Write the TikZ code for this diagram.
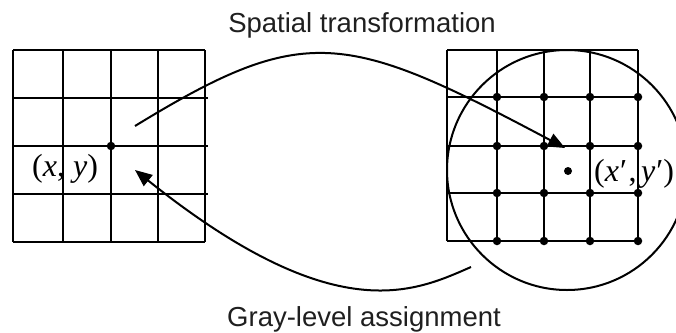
\documentclass[tikz,border=0pt]{standalone}
\usepackage{fontspec}
\setmainfont{Liberation Serif}
\newfontfamily\capfont{Liberation Sans}
\usetikzlibrary{arrows.meta}
\tikzset{
  gridline/.style={line width=2pt},
  gdot/.style={circle, fill=black, draw=none, inner sep=0pt, minimum size=8.5pt},
  arc/.style={line width=2pt, -{Triangle[length=17pt,width=14pt]}},
  caption/.style={font=\capfont\fontsize{27.5}{33}\selectfont, text=black!88, inner sep=0pt, anchor=base},
  coordlabel/.style={font=\fontsize{32}{36}\selectfont, inner sep=0pt}
}
\begin{document}
\begin{tikzpicture}[x=1pt,y=-1pt]
\useasboundingbox (0,0) rectangle (676,332);
\clip (0,0) rectangle (676,332);
% left grid
\foreach \x in {13,63,111,158,205} \draw[gridline] (\x,50) -- (\x,242);
\draw[gridline] (13,50) -- (205,50);
\draw[gridline] (13,242) -- (205,242);
\foreach \y in {98,146,194} \draw[gridline] (13,\y) -- (208,\y);
\node[gdot] (src) at (111,146) {};
\node[coordlabel, anchor=west] (xy) at (32,169) {(\textit{x}, \textit{y})};
% right grid
\foreach \x in {447,497,544,590,638} \draw[gridline] (\x,50) -- (\x,241);
\foreach \y in {50,97,146,193,241} \draw[gridline] (447,\y) -- (638,\y);
\foreach \x in {497,544,590,638}
  \foreach \y in {97,146,193,241}
    \node[gdot] at (\x,\y) {};
\node[gdot, minimum size=8pt] (dst) at (568,171) {};
\node[coordlabel, anchor=west] (xyp) at (594,174) {(\textit{x}\kern1pt′\kern1.5pt,\kern4.5pt\textit{y}\kern1pt′)};
% neighbourhood circle
\node[circle, draw, line width=2pt, minimum size=240pt, inner sep=0pt] (nb) at (567,170) {};
% arrows
\coordinate (s1) at (135,126);
\coordinate (t1) at (565,148);
\draw[arc] (s1) .. controls (305,22) and (345,31) .. (t1);
\coordinate (s2) at (471,267);
\coordinate (t2) at (135,170);
\draw[arc] (s2) .. controls (414,292) and (335,330) .. (t2);
% captions
\node[caption] (top) at (362,32) {Spatial transformation};
\node[caption] (bot) at (364,326) {Gray-level assignment};
\end{tikzpicture}
\end{document}
